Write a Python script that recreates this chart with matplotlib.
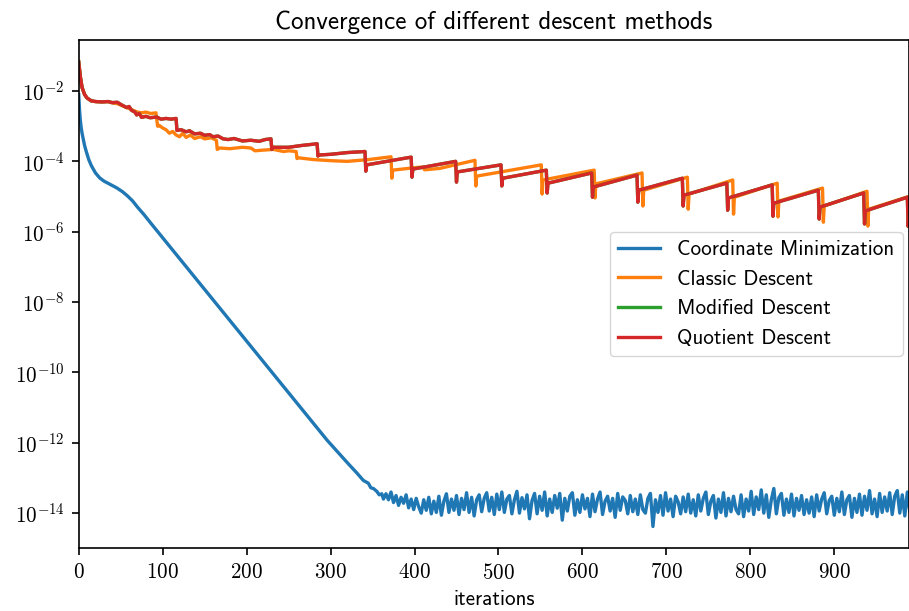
import numpy as np
import matplotlib
matplotlib.use("Agg")
import matplotlib.pyplot as plt
from matplotlib.ticker import FuncFormatter, NullLocator

# --- data (log10 of the error) ---
# Coordinate Minimization: smooth decay then noise floor
cm_x = [0, 1, 2, 3, 4, 5, 7, 9, 12, 15, 20, 25, 30, 38, 45, 52, 58, 64, 70, 78, 86,
        296, 310, 322, 331, 339, 345, 348, 351, 355, 358, 361, 363]
cm_exp = [-2.1, -2.55, -2.85, -3.05, -3.2, -3.32, -3.55, -3.72, -3.95, -4.12, -4.33, -4.47,
          -4.56, -4.66, -4.75, -4.86, -4.98, -5.12, -5.3, -5.52, -5.76,
          -11.93, -12.3, -12.62, -12.85, -13.07, -13.15, -13.28, -13.3, -13.38, -13.48,
          -13.45, -13.6]
noise_start = 366
noise_step = 3
noise_exp = [
    -13.45, -13.62, -13.40, -13.70, -13.50, -13.78, -13.55, -13.72, -13.48, -13.85,
    -13.60, -13.90, -13.58, -13.82, -14.00, -13.62, -13.92, -13.55, -14.02, -13.66,
    -13.98, -13.52, -14.06, -13.66, -13.45, -13.98, -13.60, -13.92, -13.50, -14.04,
    -13.58, -13.90, -13.42, -13.98, -13.55, -14.08, -13.62, -13.48, -13.96, -13.58,
    -13.42, -13.94, -13.55, -14.04, -13.46, -13.90, -13.40, -13.98, -13.60, -13.50,
    -14.02, -13.62, -13.38, -14.00, -13.56, -13.88, -13.48, -14.16, -13.64, -13.44,
    -14.02, -13.52, -13.92, -13.40, -14.08, -13.60, -13.98, -13.50, -13.86, -13.44,
    -14.20, -13.58, -13.94, -13.52, -13.42, -14.06, -13.62, -13.98, -13.48, -13.88,
    -13.58, -14.10, -13.46, -13.96, -13.60, -13.40, -14.04, -13.66, -13.52, -13.94,
    -13.58, -14.12, -13.44, -13.92, -13.54, -13.64, -14.02, -13.50, -13.96, -13.60,
    -14.04, -13.48, -13.90, -14.00, -13.58, -13.44, -14.38, -13.62, -13.98, -13.50,
    -14.06, -13.42, -13.94, -13.60, -14.10, -13.52, -13.68, -14.02, -13.54, -13.96,
    -13.46, -14.00, -13.62, -14.08, -13.48, -13.94, -13.58, -13.40, -14.04, -13.66,
    -13.50, -14.14, -13.60, -13.98, -13.42, -14.08, -13.58, -13.96, -13.52, -13.90,
    -14.02, -13.48, -14.10, -13.60, -13.94, -13.38, -14.04, -13.54, -13.90, -13.34,
    -14.00, -13.48, -14.12, -13.62, -13.30, -14.02, -13.56, -13.44, -14.06, -13.60,
    -13.98, -13.46, -14.08, -13.58, -13.92, -13.50, -14.04, -13.62, -14.00, -13.54,
    -14.10, -13.48, -13.94, -13.60, -13.42, -14.02, -13.64, -13.52, -14.06, -13.58,
    -13.96, -13.40, -14.04, -13.62, -13.50, -14.12, -13.58, -13.98, -13.46, -14.06,
    -13.52, -13.92, -13.36, -14.02, -13.60, -14.10, -13.44, -13.98, -13.54, -13.94,
    -13.42, -14.04, -13.52, -13.36, -14.00, -13.48, -14.08, -13.40, -13.96, -13.58,
    -13.46, -14.02, -13.54, -13.90, -13.48, -13.98, -13.58, -13.92, -13.50, -13.94,
]

# Classic Descent
classic_x = [0, 2, 4, 7, 10, 15, 20, 28, 35, 40, 46, 50, 55, 60, 65, 70, 75, 80, 86, 92,
             94, 96, 100, 104, 108, 112, 116, 120, 124, 128, 133, 138, 145, 150, 158, 164,
             165, 168, 180, 195, 205, 210, 220, 232, 244, 250, 259,
             260, 262, 280, 300, 320, 345, 372,
             373, 374, 400, 410, 412, 430, 472,
             473, 474, 551, 552, 553, 614, 615, 616, 671, 672, 673, 725, 726, 727,
             779, 780, 781, 832, 833, 834, 886, 887, 888, 939, 940, 941, 990]
classic_exp = [-1.17, -1.6, -1.9, -2.1, -2.2, -2.28, -2.3, -2.31, -2.3, -2.34, -2.36, -2.4,
               -2.45, -2.5, -2.55, -2.6, -2.62, -2.6, -2.64, -2.62,
               -3.0, -2.98, -3.05, -3.1, -3.2, -3.15, -3.25, -3.3, -3.2, -3.32, -3.25, -3.35,
               -3.3, -3.36, -3.33, -3.4,
               -3.66, -3.62, -3.64, -3.6, -3.62, -3.7, -3.68, -3.66, -3.72, -3.7, -3.72,
               -3.92, -3.9, -3.95, -3.98, -4.0, -3.95, -3.87,
               -4.48, -4.25, -4.18, -4.16, -4.24, -4.2, -3.97,
               -4.7, -4.42, -4.1, -4.93, -4.53, -4.25, -5.04, -4.64, -4.33, -5.27, -4.82,
               -4.45, -5.36, -4.93, -4.53, -5.5, -5.02, -4.62, -5.58, -5.13, -4.76, -5.73,
               -5.27, -4.85, -5.84, -5.36, -4.99]

# Quotient Descent (Modified Descent lies underneath it)
quotient_x = [0, 2, 4, 7, 10, 15, 20, 28, 35, 40, 46, 50, 57, 60, 63, 67, 69, 72, 75, 80,
              85, 93, 98, 104, 110, 116, 117, 122, 128, 132, 138, 145, 150, 156, 160, 166,
              172, 178, 185, 195, 205, 215, 222, 229,
              230, 231, 250, 265, 284, 285, 286, 300, 320, 341,
              342, 343, 396, 397, 398, 449, 450, 451, 503, 504, 505, 557, 558, 559,
              611, 612, 613, 665, 666, 667, 719, 720, 721, 772, 773, 774, 826, 827, 828,
              881, 882, 883, 935, 936, 937, 987, 988, 989]
quotient_exp = [-1.17, -1.6, -1.9, -2.1, -2.2, -2.28, -2.3, -2.31, -2.3, -2.33, -2.32,
                -2.38, -2.47, -2.44, -2.55, -2.6, -2.68, -2.64, -2.75, -2.72, -2.76, -2.74,
                -2.8, -2.78, -2.8, -2.78, -3.12, -3.1, -3.16, -3.13, -3.22, -3.2, -3.26,
                -3.24, -3.3, -3.28, -3.36, -3.38, -3.35, -3.42, -3.4, -3.43, -3.38, -3.36,
                -3.66, -3.6, -3.6, -3.55, -3.5, -3.85, -3.82, -3.8, -3.75, -3.72,
                -4.28, -4.1, -3.88, -4.45, -4.22, -4.0, -4.59, -4.3, -4.1, -4.7, -4.48,
                -4.25, -4.9, -4.62, -4.33, -5.02, -4.73, -4.39, -5.16, -4.82, -4.48, -5.27,
                -4.96, -4.62, -5.39, -5.04, -4.67, -5.56, -5.19, -4.82, -5.64, -5.3, -4.9,
                -5.78, -5.41, -5.02, -5.85, -5.5]
modified_x = list(quotient_x)
modified_exp = list(quotient_exp)

xticks = list(range(0, 1000, 100))
ytick_exps = list(range(-14, -1, 2))

# --- figure ---
plt.rcParams['mathtext.fontset'] = 'cm'
plt.rcParams['font.family'] = ['cmss10', 'DejaVu Sans']
plt.rcParams['axes.unicode_minus'] = False

fs = 15.2
fig = plt.figure(figsize=(9.09, 6.11), dpi=100)
ax = fig.add_axes([78.7 / 909, 1 - 548.3 / 611, 1 - 78.7 / 909, (548.3 - 40) / 611])

blue_x = np.concatenate([cm_x, noise_start + noise_step * np.arange(len(noise_exp))])
blue_y = 10.0 ** np.concatenate([cm_exp, noise_exp])

lw = 2.4
ax.plot(blue_x, blue_y, color='tab:blue', lw=lw, label='Coordinate Minimization')
ax.plot(classic_x, 10.0 ** np.array(classic_exp), color='tab:orange', lw=lw, label='Classic Descent')
ax.plot(modified_x, 10.0 ** np.array(modified_exp), color='tab:green', lw=lw, label='Modified Descent')
ax.plot(quotient_x, 10.0 ** np.array(quotient_exp), color='tab:red', lw=lw, label='Quotient Descent')

ax.set_yscale('log')
ax.set_xlim(0, 989)
ax.set_ylim(10.0 ** -15.0, 10.0 ** -0.55)
ax.set_xticks(xticks)
ax.set_xticklabels([r'$%d$' % t for t in xticks])
ax.set_yticks([10.0 ** e for e in ytick_exps])
ax.yaxis.set_major_formatter(FuncFormatter(lambda v, p: r'$10^{%d}$' % round(np.log10(v))))
ax.yaxis.set_minor_locator(NullLocator())
ax.tick_params(labelsize=fs, length=5.3, width=1.2, pad=5)
for s in ax.spines.values():
    s.set_linewidth(1.2)

ax.set_title('Convergence of different descent methods', fontsize=18, pad=8)
ax.set_xlabel('iterations', fontsize=fs, labelpad=5)
ax.legend(loc='center right', fontsize=fs, borderaxespad=0.3)

fig.savefig('out.png', dpi=100)
